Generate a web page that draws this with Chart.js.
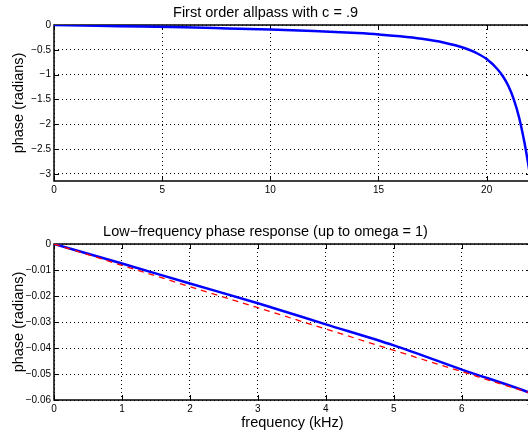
<!DOCTYPE html>
<html>
<head>
<meta charset="utf-8">
<script src="https://cdn.jsdelivr.net/npm/chart.js@4.4.0/dist/chart.umd.min.js"></script>
<style>
  body { margin: 0; overflow: hidden; background: #fff; }
  #wrap { width: 528px; height: 434px; overflow: hidden; }
  canvas { display: block; }
</style>
</head>
<body>
<div id="wrap">
  <canvas id="topChart" width="585" height="217"></canvas>
  <canvas id="lowChart" width="585" height="217"></canvas>
</div>
<script>
// top plot: full band phase, frequency in kHz
const freqTop = [0, 2, 4, 6, 8, 10, 12, 14, 15, 16, 17, 18, 19, 19.5, 20, 20.5, 20.75, 21, 21.25, 21.5, 21.75, 21.85, 21.95, 22.0, 22.05];
const phaseTop = [0, -0.015, -0.031, -0.046, -0.068, -0.091, -0.121, -0.163, -0.190, -0.228, -0.279, -0.352, -0.468, -0.558, -0.686, -0.891, -1.033, -1.225, -1.491, -1.862, -2.372, -2.615, -2.875, -3.008, -3.1416];
const xTicksTop = [0, 5, 10, 15, 20];
const yTicksTop = [0, -0.5, -1, -1.5, -2, -2.5, -3];

// bottom plot: low frequency detail
const freqLow = [0, 1, 2, 3, 4, 5, 6, 7, 7.0187];
const phaseLow = [0, -0.0075, -0.0152, -0.0228, -0.0309, -0.0390, -0.0483, -0.0572, -0.0574];
const freqApprox = [0, 1, 2, 3, 4, 5, 6, 7, 7.0187];
const phaseApprox = [0, -0.0082, -0.0164, -0.0245, -0.0327, -0.0409, -0.0491, -0.0573, -0.0574];
const xTicksLow = [0, 1, 2, 3, 4, 5, 6, 7];
const yTicksLow = [0, -0.01, -0.02, -0.03, -0.04, -0.05, -0.06];

Chart.defaults.font.family = '"Liberation Sans", Arial, sans-serif';
Chart.defaults.color = '#000';

const fmt = (v) => String(+v.toFixed(3)).replace('-', '\u2212');

// matlab style box with inward ticks
const matlabBox = {
  id: 'matlabBox',
  beforeDatasetsDraw(chart) {
    const { ctx, chartArea: a, scales: { x, y } } = chart;
    ctx.save();
    ctx.strokeStyle = '#000';
    ctx.lineWidth = 1;
    ctx.beginPath();
    x.ticks.forEach((t) => {
      const px = Math.round(x.getPixelForValue(t.value)) + 0.5;
      ctx.moveTo(px, a.bottom); ctx.lineTo(px, a.bottom - 5);
      ctx.moveTo(px, a.top); ctx.lineTo(px, a.top + 5);
    });
    y.ticks.forEach((t) => {
      const py = Math.round(y.getPixelForValue(t.value)) + 0.5;
      ctx.moveTo(a.left, py); ctx.lineTo(a.left + 5, py);
      ctx.moveTo(a.right, py); ctx.lineTo(a.right - 5, py);
    });
    ctx.stroke();
    ctx.lineWidth = 1.5;
    ctx.strokeRect(a.left, a.top, a.right - a.left, a.bottom - a.top);
    ctx.restore();
  }
};

const pts = (xs, ys) => xs.map((v, i) => ({ x: v, y: ys[i] }));

const makeChart = (id, cfg) => {
  new Chart(document.getElementById(id), {
    type: 'line',
    data: { datasets: cfg.datasets },
    options: {
      responsive: false,
      animation: false,
      layout: { padding: { left: 0, right: 54, top: 0, bottom: 0 } },
      plugins: {
        legend: { display: false },
        tooltip: { enabled: false },
        title: {
          display: true,
          text: cfg.title,
          color: '#000',
          font: { size: 14.5, weight: 'normal' },
          padding: cfg.titlePad
        }
      },
      scales: {
        x: {
          type: 'linear',
          min: 0,
          max: cfg.xMax,
          afterBuildTicks: (s) => { s.ticks = cfg.xTicks.map((v) => ({ value: v })); },
          afterFit: (s) => { s.height = cfg.xHeight; },
          grid: { color: '#000', lineWidth: 1, drawTicks: false },
          border: { display: false, dash: [1, 3] },
          ticks: { font: { size: 10 }, padding: 3, maxRotation: 0, callback: fmt },
          title: {
            display: !!cfg.xLabel,
            text: cfg.xLabel,
            font: { size: 14.5 },
            padding: { top: 0, bottom: 2.3 }
          }
        },
        y: {
          type: 'linear',
          min: cfg.yMin,
          max: 0,
          afterBuildTicks: (s) => { s.ticks = cfg.yTicks.map((v) => ({ value: v })); },
          afterFit: (s) => { s.width = 54; },
          grid: { color: '#000', lineWidth: 1, drawTicks: false },
          border: { display: false, dash: [1, 3] },
          ticks: { font: { size: 10 }, padding: 3, callback: fmt },
          title: {
            display: true,
            text: 'phase (radians)',
            font: { size: 14.5 },
            padding: { top: 9.8, bottom: 0 }
          }
        }
      }
    },
    plugins: [matlabBox]
  });
};

window.onload = () => {
  makeChart('topChart', {
    title: 'First order allpass with c = .9',
    titlePad: { top: 3.8, bottom: 3.8 },
    xMax: 22.05,
    yMin: -Math.PI,
    xTicks: xTicksTop,
    yTicks: yTicksTop,
    xHeight: 36,
    xLabel: '',
    datasets: [{
      data: pts(freqTop, phaseTop),
      borderColor: '#0000ff',
      borderWidth: 2.5,
      pointRadius: 0,
      cubicInterpolationMode: 'monotone'
    }]
  });

  makeChart('lowChart', {
    title: 'Low\u2212frequency phase response (up to omega = 1)',
    titlePad: { top: 5.8, bottom: 3.8 },
    xMax: 7.0187,
    yMin: -0.06,
    xTicks: xTicksLow,
    yTicks: yTicksLow,
    xHeight: 34,
    xLabel: 'frequency (kHz)',
    datasets: [{
      data: pts(freqApprox, phaseApprox),
      borderColor: '#ff0000',
      borderWidth: 1.3,
      borderDash: [6, 5],
      pointRadius: 0,
      order: 0
    }, {
      data: pts(freqLow, phaseLow),
      borderColor: '#0000ff',
      borderWidth: 2.5,
      pointRadius: 0,
      cubicInterpolationMode: 'monotone',
      order: 1
    }]
  });
};
</script>
</body>
</html>
